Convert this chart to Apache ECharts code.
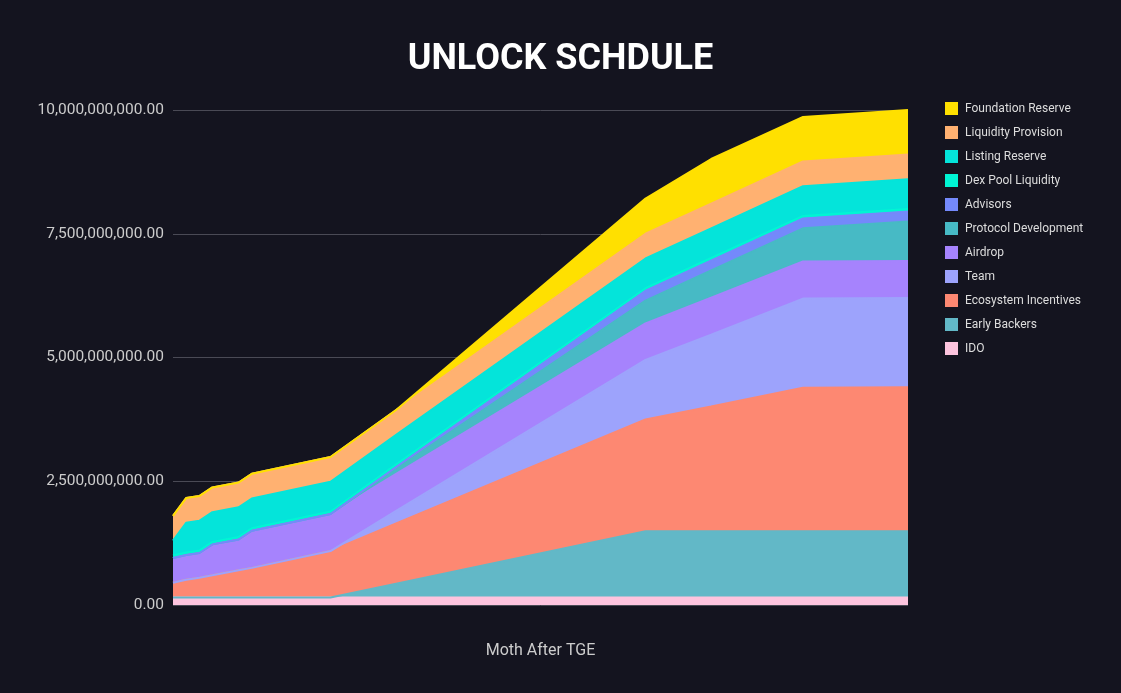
<!DOCTYPE html>
<html>
<head>
<meta charset="utf-8">
<title>Unlock Schedule</title>
<script src="https://cdn.jsdelivr.net/npm/echarts@6/dist/echarts.min.js"></script>
<style>
  html, body { margin: 0; padding: 0; background: #14141f; }
  #chart { width: 1121px; height: 693px; }
</style>
</head>
<body>
<div id="chart"></div>
<script>
// months after TGE where the schedule changes slope
var months = [0, 1, 2, 3, 5, 6, 12, 17, 36, 41, 48, 56];

// unlocked tokens per allocation
var ido          = [150000000, 150000000, 150000000, 150000000, 150000000, 150000000, 150000000, 150000000, 150000000, 150000000, 150000000, 150000000];
var earlyBackers = [0, 0, 0, 0, 0, 0, 0, 280000000, 1340000000, 1340000000, 1340000000, 1340000000];
var ecosystem    = [300000000, 360000000, 400000000, 450000000, 550000000, 600000000, 940000000, 1220000000, 2260000000, 2520000000, 2900000000, 2910000000];
var team         = [0, 0, 0, 0, 0, 0, 0, 250000000, 1200000000, 1450000000, 1800000000, 1800000000];
var airdrop      = [500000000, 500000000, 500000000, 625000000, 625000000, 750000000, 750000000, 750000000, 740000000, 750000000, 750000000, 750000000];
var protocol     = [0, 0, 0, 0, 0, 0, 0, 100000000, 460000000, 550000000, 670000000, 800000000];
var advisors     = [0, 0, 0, 0, 0, 0, 0, 40000000, 200000000, 200000000, 200000000, 200000000];
var dexPool      = [50000000, 50000000, 50000000, 50000000, 50000000, 50000000, 50000000, 50000000, 50000000, 50000000, 50000000, 50000000];
var listing      = [300000000, 600000000, 600000000, 600000000, 600000000, 600000000, 600000000, 600000000, 600000000, 600000000, 600000000, 600000000];
var liquidity    = [500000000, 500000000, 500000000, 500000000, 500000000, 500000000, 500000000, 500000000, 500000000, 500000000, 500000000, 500000000];
var foundation   = [0, 0, 0, 0, 0, 0, 0, 0, 710000000, 900000000, 900000000, 900000000];

// bottom to top
var seriesList = [
    { name: 'IDO', color: '#fdc4de', values: ido },
    { name: 'Early Backers', color: '#62b8c7', values: earlyBackers },
    { name: 'Ecosystem Incentives', color: '#fd8872', values: ecosystem },
    { name: 'Team', color: '#9da3fc', values: team },
    { name: 'Airdrop', color: '#a683fd', values: airdrop },
    { name: 'Protocol Development', color: '#47bac5', values: protocol },
    { name: 'Advisors', color: '#7489fb', values: advisors },
    { name: 'Dex Pool Liquidity', color: '#00f5d4', values: dexPool },
    { name: 'Listing Reserve', color: '#04e4da', values: listing },
    { name: 'Liquidity Provision', color: '#ffb171', values: liquidity },
    { name: 'Foundation Reserve', color: '#ffe000', values: foundation }
];

// value first so the stack runs on the y dimension, month second
function toPairs(values) {
    var out = [];
    for (var i = 0; i < months.length; i++) {
        out.push([values[i], months[i]]);
    }
    return out;
}

function fmt(v) {
    return v.toLocaleString('en-US', { minimumFractionDigits: 2, maximumFractionDigits: 2 });
}

var chart = echarts.init(document.getElementById('chart'));

var option = {
    backgroundColor: '#14141f',
    animation: false,
    title: {
        text: 'UNLOCK SCHDULE',
        left: 'center',
        top: 37,
        textStyle: { color: '#ffffff', fontSize: 36, fontWeight: 'bold', fontFamily: 'Roboto' }
    },
    legend: {
        orient: 'vertical',
        left: 940,
        top: 97,
        itemWidth: 13,
        itemHeight: 13,
        itemGap: 11,
        icon: 'rect',
        textStyle: { color: '#dddddd', fontSize: 12, fontFamily: 'Roboto', padding: [0, 0, 0, 2] },
        data: seriesList.map(function (s) { return s.name; }).reverse()
    },
    grid: { left: 173, right: 213, top: 110, bottom: 88 },
    xAxis: {
        type: 'value',
        min: 0,
        max: 56,
        name: 'Moth After TGE',
        nameLocation: 'middle',
        nameGap: 38,
        nameTextStyle: { color: '#cccccc', fontSize: 16, fontFamily: 'Roboto' },
        axisLine: { show: false },
        axisTick: { show: false },
        axisLabel: { show: false },
        splitLine: { show: false }
    },
    yAxis: {
        type: 'value',
        min: 0,
        max: 10000000000,
        interval: 2500000000,
        axisLine: { show: false },
        axisTick: { show: false },
        axisLabel: {
            color: '#cccccc',
            fontSize: 15.5,
            fontFamily: 'Roboto',
            margin: 9,
            formatter: fmt
        },
        splitLine: { lineStyle: { color: '#4a4a55', width: 1 } }
    },
    series: seriesList.map(function (s) {
        return {
            name: s.name,
            type: 'line',
            stack: 'total',
            showSymbol: false,
            color: s.color,
            encode: { x: 1, y: 0 },
            lineStyle: { width: 2, color: s.color },
            areaStyle: { color: s.color, opacity: 1 },
            data: toPairs(s.values)
        };
    })
};

chart.setOption(option);
</script>
</body>
</html>
